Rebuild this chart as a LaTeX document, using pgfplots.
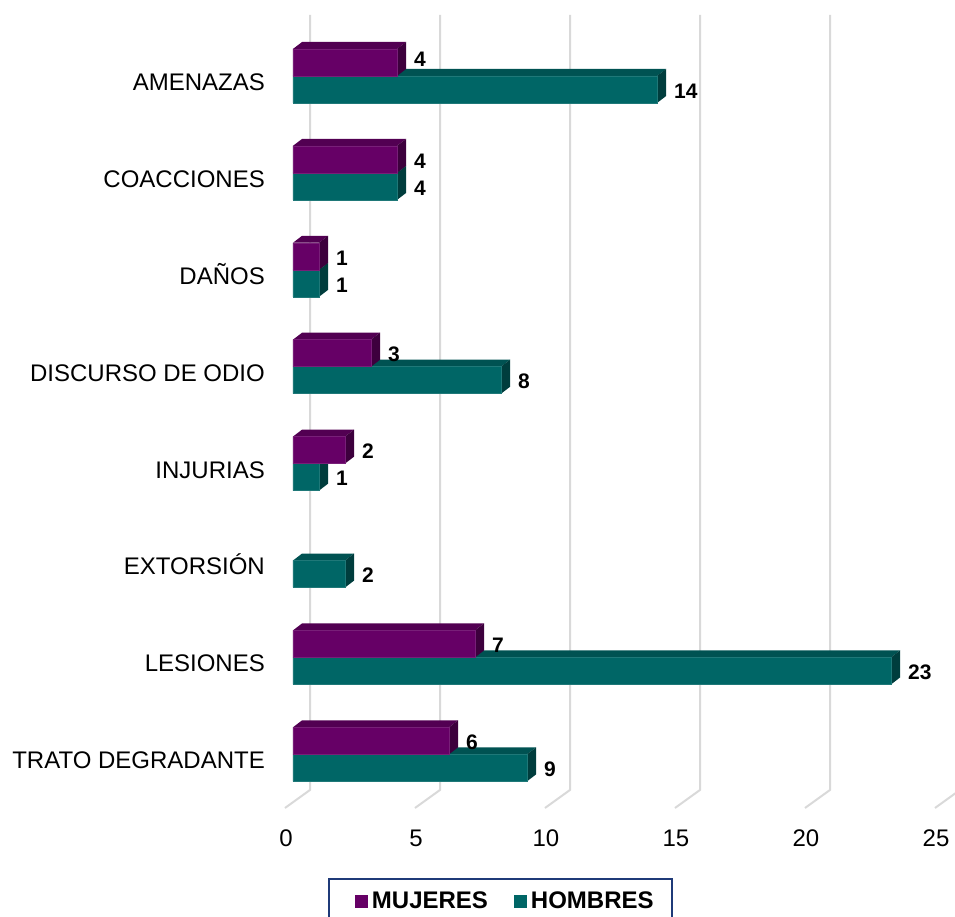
\documentclass[border=0pt]{standalone}
\usepackage{pgfplots}
\pgfplotsset{compat=1.18}
\usepackage{fontspec}
\setmainfont{Liberation Sans}
\definecolor{pf}{HTML}{660066}\definecolor{pt}{HTML}{520052}\definecolor{ps}{HTML}{3D003D}
\definecolor{tf}{HTML}{006666}\definecolor{tt}{HTML}{005252}\definecolor{ts}{HTML}{003D3D}
\definecolor{gridc}{HTML}{D9D9D9}\definecolor{navy}{HTML}{1F3A78}
\begin{document}
\begin{tikzpicture}
\path[use as bounding box] (0,0) rectangle (955pt,917pt);
\begin{axis}[
 at={(0,0)},anchor=south west,
 width=955pt,height=917pt,scale only axis,
 xmin=-11.269,xmax=25.462,ymin=-0.784,ymax=8.679,y dir=reverse,
 axis line style={draw=none},major tick length=0pt,
 tick label style={font=\fontsize{24}{24}\selectfont},
 /pgf/number format/assume math mode=true,
 xtick={0,5,10,15,20,25},
 xticklabel style={anchor=center,yshift=79pt,xshift=-7pt},
 ytick={0,1,2,3,4,5,6,7},
 yticklabels={AMENAZAS,COACCIONES,DAÑOS,DISCURSO DE ODIO,INJURIAS,EXTORSIÓN,LESIONES,TRATO DEGRADANTE},
 yticklabel style={anchor=base east,xshift=265pt,yshift=-14.5pt,inner sep=0pt},
 unbounded coords=jump,
 legend style={at={(0.3435,0.0425)},anchor=north west,draw=navy,line width=1.8pt,
   legend columns=2,font=\bfseries\fontsize{24}{24}\selectfont,
   inner xsep=16pt,inner ysep=11pt,
   /tikz/every even column/.append style={column sep=14pt}},
 legend cell align=left,
 legend image code/.code={\path[draw=none] (0pt,0pt) -- (25pt,0pt);\path[draw=none,fill=#1] (10pt,-6.5pt) rectangle (23pt,6.5pt);},
 every node near coord/.append style={anchor=west,inner sep=0pt,xshift=17pt,text=black,font=\bfseries\fontsize{21}{21}\selectfont},
]
\addlegendimage{pf}\addlegendentry{MUJERES}
\addlegendimage{tf}\addlegendentry{HOMBRES}
% gridlines
\addplot[forget plot,gridc,line width=2pt] coordinates {
 (.654,-.63)(.654,7.368)(-.308,7.554)(nan,nan)
 (5.654,-.63)(5.654,7.368)(4.692,7.554)(nan,nan)
 (10.654,-.63)(10.654,7.368)(9.692,7.554)(nan,nan)
 (15.654,-.63)(15.654,7.368)(14.692,7.554)(nan,nan)
 (20.654,-.63)(20.654,7.368)(19.692,7.554)(nan,nan)
 (25.654,-.63)(25.654,7.368)(24.692,7.554)
};
% HOMBRES top faces
\addplot[forget plot,fill=tt,draw=none] coordinates {
 (0,0)(.35,-.072)(14.35,-.072)(14,0)(nan,nan)
 (0,1)(.35,.928)(4.35,.928)(4,1)(nan,nan)
 (0,2)(.35,1.928)(1.35,1.928)(1,2)(nan,nan)
 (0,3)(.35,2.928)(8.35,2.928)(8,3)(nan,nan)
 (0,4)(.35,3.928)(1.35,3.928)(1,4)(nan,nan)
 (0,5)(.35,4.928)(2.35,4.928)(2,5)(nan,nan)
 (0,6)(.35,5.928)(23.35,5.928)(23,6)(nan,nan)
 (0,7)(.35,6.928)(9.35,6.928)(9,7)
};
% HOMBRES side faces
\addplot[forget plot,fill=ts,draw=none] coordinates {
 (14,0)(14.35,-.072)(14.35,.207)(14,.279)(nan,nan)
 (4,1)(4.35,.928)(4.35,1.207)(4,1.279)(nan,nan)
 (1,2)(1.35,1.928)(1.35,2.207)(1,2.279)(nan,nan)
 (8,3)(8.35,2.928)(8.35,3.207)(8,3.279)(nan,nan)
 (1,4)(1.35,3.928)(1.35,4.207)(1,4.279)(nan,nan)
 (2,5)(2.35,4.928)(2.35,5.207)(2,5.279)(nan,nan)
 (23,6)(23.35,5.928)(23.35,6.207)(23,6.279)(nan,nan)
 (9,7)(9.35,6.928)(9.35,7.207)(9,7.279)
};
% HOMBRES front faces
\addplot[forget plot,xbar,bar width=27pt,bar shift=-13.5pt,fill=tf,draw=tf!88!white,line width=.4pt,
 nodes near coords,
 every node near coord/.append style={yshift=-15pt}] coordinates {
 (14,0)(4,1)(1,2)(8,3)(1,4)(2,5)(23,6)(9,7)
};
% MUJERES top faces
\addplot[forget plot,fill=pt,draw=none] coordinates {
 (0,-.279)(.35,-.351)(4.35,-.351)(4,-.279)(nan,nan)
 (0,.721)(.35,.649)(4.35,.649)(4,.721)(nan,nan)
 (0,1.721)(.35,1.649)(1.35,1.649)(1,1.721)(nan,nan)
 (0,2.721)(.35,2.649)(3.35,2.649)(3,2.721)(nan,nan)
 (0,3.721)(.35,3.649)(2.35,3.649)(2,3.721)(nan,nan)
 (0,5.721)(.35,5.649)(7.35,5.649)(7,5.721)(nan,nan)
 (0,6.721)(.35,6.649)(6.35,6.649)(6,6.721)
};
% MUJERES side faces
\addplot[forget plot,fill=ps,draw=none] coordinates {
 (4,-.279)(4.35,-.351)(4.35,-.072)(4,0)(nan,nan)
 (4,.721)(4.35,.649)(4.35,.928)(4,1)(nan,nan)
 (1,1.721)(1.35,1.649)(1.35,1.928)(1,2)(nan,nan)
 (3,2.721)(3.35,2.649)(3.35,2.928)(3,3)(nan,nan)
 (2,3.721)(2.35,3.649)(2.35,3.928)(2,4)(nan,nan)
 (7,5.721)(7.35,5.649)(7.35,5.928)(7,6)(nan,nan)
 (6,6.721)(6.35,6.649)(6.35,6.928)(6,7)
};
% MUJERES front faces
\addplot[forget plot,xbar,bar width=27pt,bar shift=13.5pt,fill=pf,draw=pf!88!white,line width=.4pt,
 nodes near coords,
 every node near coord/.append style={yshift=12pt},
 coordinate style/.condition={y<0.5}{yshift=5pt}] coordinates {
 (4,0)(4,1)(1,2)(3,3)(2,4)(7,6)(6,7)
};
\end{axis}
\end{tikzpicture}
\end{document}
